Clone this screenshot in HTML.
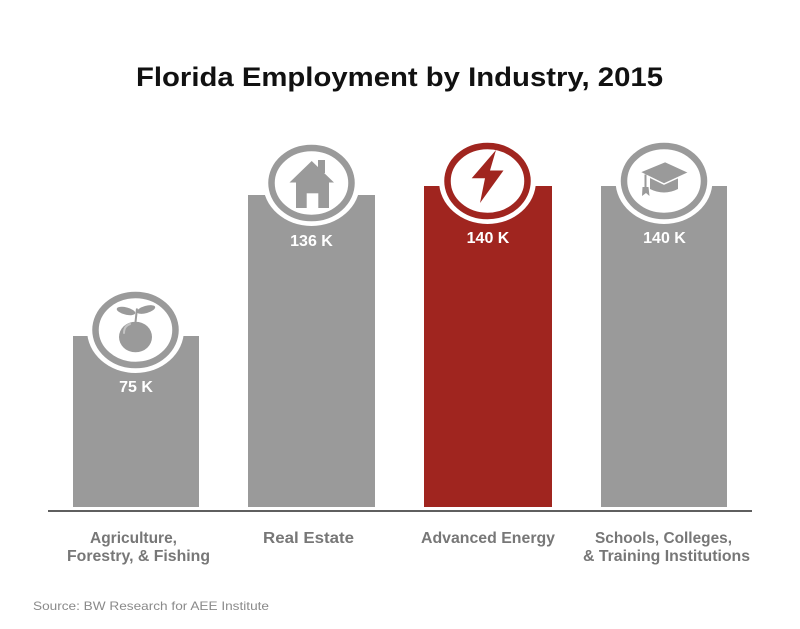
<!DOCTYPE html>
<html>
<head>
<meta charset="utf-8">
<style>
  html, body { margin: 0; padding: 0; background: #ffffff; }
  body { width: 800px; height: 629px; overflow: hidden; }
  svg { display: block; }
  text { font-family: "Liberation Sans", Arial, sans-serif; }
</style>
</head>
<body>
<svg width="800" height="629" viewBox="0 0 800 629" xmlns="http://www.w3.org/2000/svg">
  <rect x="0" y="0" width="800" height="629" fill="#ffffff"/>

  <!-- Title -->
  <text x="136" y="86" font-size="27" font-weight="bold" fill="#111111" textLength="527" lengthAdjust="spacingAndGlyphs">Florida Employment by Industry, 2015</text>

  <!-- Bars -->
  <rect x="73" y="336" width="126" height="171" fill="#9a9a9a"/>
  <rect x="248" y="195" width="127" height="312" fill="#9a9a9a"/>
  <rect x="424" y="186" width="128" height="321" fill="#a0251f"/>
  <rect x="601" y="186" width="126" height="321" fill="#9a9a9a"/>

  <!-- Baseline -->
  <rect x="48" y="510" width="704" height="2" fill="#5f5f5f"/>

  <!-- Circle 1: Apple -->
  <ellipse cx="135.5" cy="330" rx="48.5" ry="43" fill="#ffffff"/>
  <ellipse cx="135.5" cy="330" rx="40" ry="35" fill="#ffffff" stroke="#9a9a9a" stroke-width="6.5"/>
  <ellipse cx="135.5" cy="337" rx="16.5" ry="15.3" fill="#9a9a9a"/>
  <path d="M124,333 Q124,326 130,324" fill="none" stroke="#c4c4c4" stroke-width="2" stroke-linecap="round"/>
  <line x1="135.5" y1="322" x2="137" y2="308.5" stroke="#9a9a9a" stroke-width="2"/>
  <ellipse cx="126" cy="311" rx="9.5" ry="3.6" fill="#9a9a9a" transform="rotate(14 126 311)"/>
  <ellipse cx="146" cy="309.5" rx="9.5" ry="3.6" fill="#9a9a9a" transform="rotate(-16 146 309.5)"/>

  <!-- Circle 2: House -->
  <ellipse cx="311.5" cy="183" rx="48.5" ry="43" fill="#ffffff"/>
  <ellipse cx="311.5" cy="183" rx="40" ry="35" fill="#ffffff" stroke="#9a9a9a" stroke-width="6.5"/>
  <rect x="318" y="160" width="7" height="13" fill="#9a9a9a"/>
  <polygon points="311.7,161 289.5,182.5 334,182.5" fill="#9a9a9a"/>
  <rect x="296" y="180" width="33" height="28" fill="#9a9a9a"/>
  <rect x="306.7" y="193.3" width="11.6" height="15" fill="#ffffff"/>

  <!-- Circle 3: Lightning -->
  <ellipse cx="487.5" cy="181" rx="48.5" ry="43" fill="#ffffff"/>
  <ellipse cx="487.5" cy="181" rx="40" ry="35" fill="#ffffff" stroke="#a0251f" stroke-width="6.5"/>
  <polygon points="496,150 471.7,178.3 485,178.3 480,203 503.5,170.5 490,170.5" fill="#a0251f"/>

  <!-- Circle 4: Graduation cap -->
  <ellipse cx="664" cy="181" rx="48.5" ry="43" fill="#ffffff"/>
  <ellipse cx="664" cy="181" rx="40" ry="35" fill="#ffffff" stroke="#9a9a9a" stroke-width="6.5"/>
  <path d="M650,176 L650,189 Q664,196 678,189 L678,176 Z" fill="#9a9a9a"/>
  <polygon points="639.5,172 665,161.5 689,172.5 664,184" fill="#9a9a9a" stroke="#ffffff" stroke-width="1.5"/>
  <line x1="645.5" y1="174.5" x2="645.5" y2="188" stroke="#9a9a9a" stroke-width="2"/>
  <polygon points="642.5,187 648.5,187 649.5,196 646,193 642,196" fill="#9a9a9a"/>

  <!-- Value labels -->
  <text x="136" y="392" font-size="16" font-weight="bold" fill="#ffffff" text-anchor="middle">75 K</text>
  <text x="311.5" y="246" font-size="16" font-weight="bold" fill="#ffffff" text-anchor="middle">136 K</text>
  <text x="488" y="243" font-size="16" font-weight="bold" fill="#ffffff" text-anchor="middle">140 K</text>
  <text x="664.5" y="243" font-size="16" font-weight="bold" fill="#ffffff" text-anchor="middle">140 K</text>

  <!-- Category labels -->
  <text x="133.5" y="543" font-size="16" font-weight="bold" fill="#777777" text-anchor="middle" textLength="87" lengthAdjust="spacingAndGlyphs">Agriculture,</text>
  <text x="138.5" y="561" font-size="16" font-weight="bold" fill="#777777" text-anchor="middle" textLength="143" lengthAdjust="spacingAndGlyphs">Forestry, &amp; Fishing</text>
  <text x="308.5" y="543" font-size="16" font-weight="bold" fill="#777777" text-anchor="middle" textLength="91" lengthAdjust="spacingAndGlyphs">Real Estate</text>
  <text x="488" y="543" font-size="16" font-weight="bold" fill="#777777" text-anchor="middle" textLength="134" lengthAdjust="spacingAndGlyphs">Advanced Energy</text>
  <text x="663.5" y="543" font-size="16" font-weight="bold" fill="#777777" text-anchor="middle" textLength="137" lengthAdjust="spacingAndGlyphs">Schools, Colleges,</text>
  <text x="666.5" y="561" font-size="16" font-weight="bold" fill="#777777" text-anchor="middle" textLength="167" lengthAdjust="spacingAndGlyphs">&amp; Training Institutions</text>

  <!-- Source -->
  <text x="33" y="610" font-size="12" fill="#8a8a8a" textLength="236" lengthAdjust="spacingAndGlyphs">Source: BW Research for AEE Institute</text>
</svg>
</body>
</html>
